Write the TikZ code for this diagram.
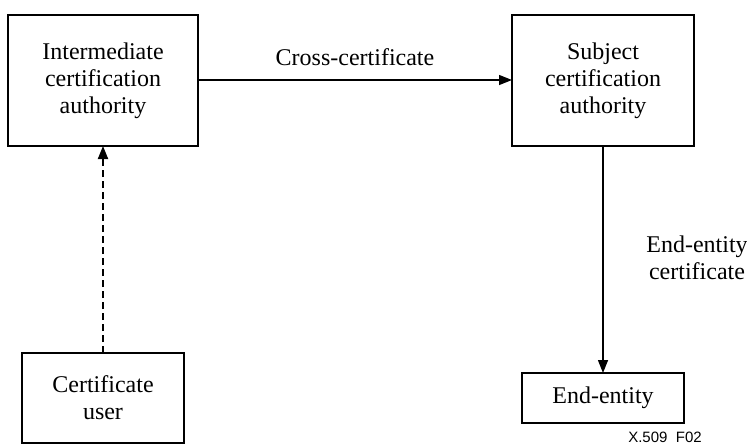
\documentclass[tikz,border=0pt]{standalone}
\usepackage{fontspec}
\setmainfont{Liberation Serif}
\newfontfamily\labelsans{Liberation Sans}
\usetikzlibrary{arrows.meta}
\begin{document}
\begin{tikzpicture}[x=1pt,y=-1pt,
  box/.style={draw=black, line width=1.4pt, inner sep=0pt, outer sep=0pt, align=center,
    font=\fontsize{24}{27}\selectfont},
  txt/.style={align=center, inner sep=0pt, font=\fontsize{24}{27}\selectfont},
  conn/.style={line width=1.4pt, -{Triangle[length=13pt,width=10pt]}}
]
\useasboundingbox (0,0) rectangle (747,445);
\node[box, minimum width=190, minimum height=131] (ica) at (103,80.5) {Intermediate\\certification\\authority};
\node[box, minimum width=182, minimum height=131] (sca) at (603,80.5) {Subject\\certification\\authority};
\node[box, minimum width=162, minimum height=90] (cu) at (103,398) {Certificate\\user};
\node[box, minimum width=162, minimum height=50] (ee) at (603,398) {End-entity};
\draw[conn] (ica.east |- 0,80) -- (sca.west |- 0,80);
\draw[conn] (sca.south) -- (ee.north);
\draw[conn, line width=1.9pt, dash pattern=on 7pt off 4pt] (cu.north) -- (ica.south);
\node[txt, anchor=base] (cc) at (355,65) {Cross-certificate};
\node[txt] (eec) at (697,258) {End-entity\\certificate};
\node[inner sep=0pt, font=\labelsans\fontsize{15}{17}\selectfont] (fig) at (665,437) {X.509\ \ F02};
\end{tikzpicture}
\end{document}
